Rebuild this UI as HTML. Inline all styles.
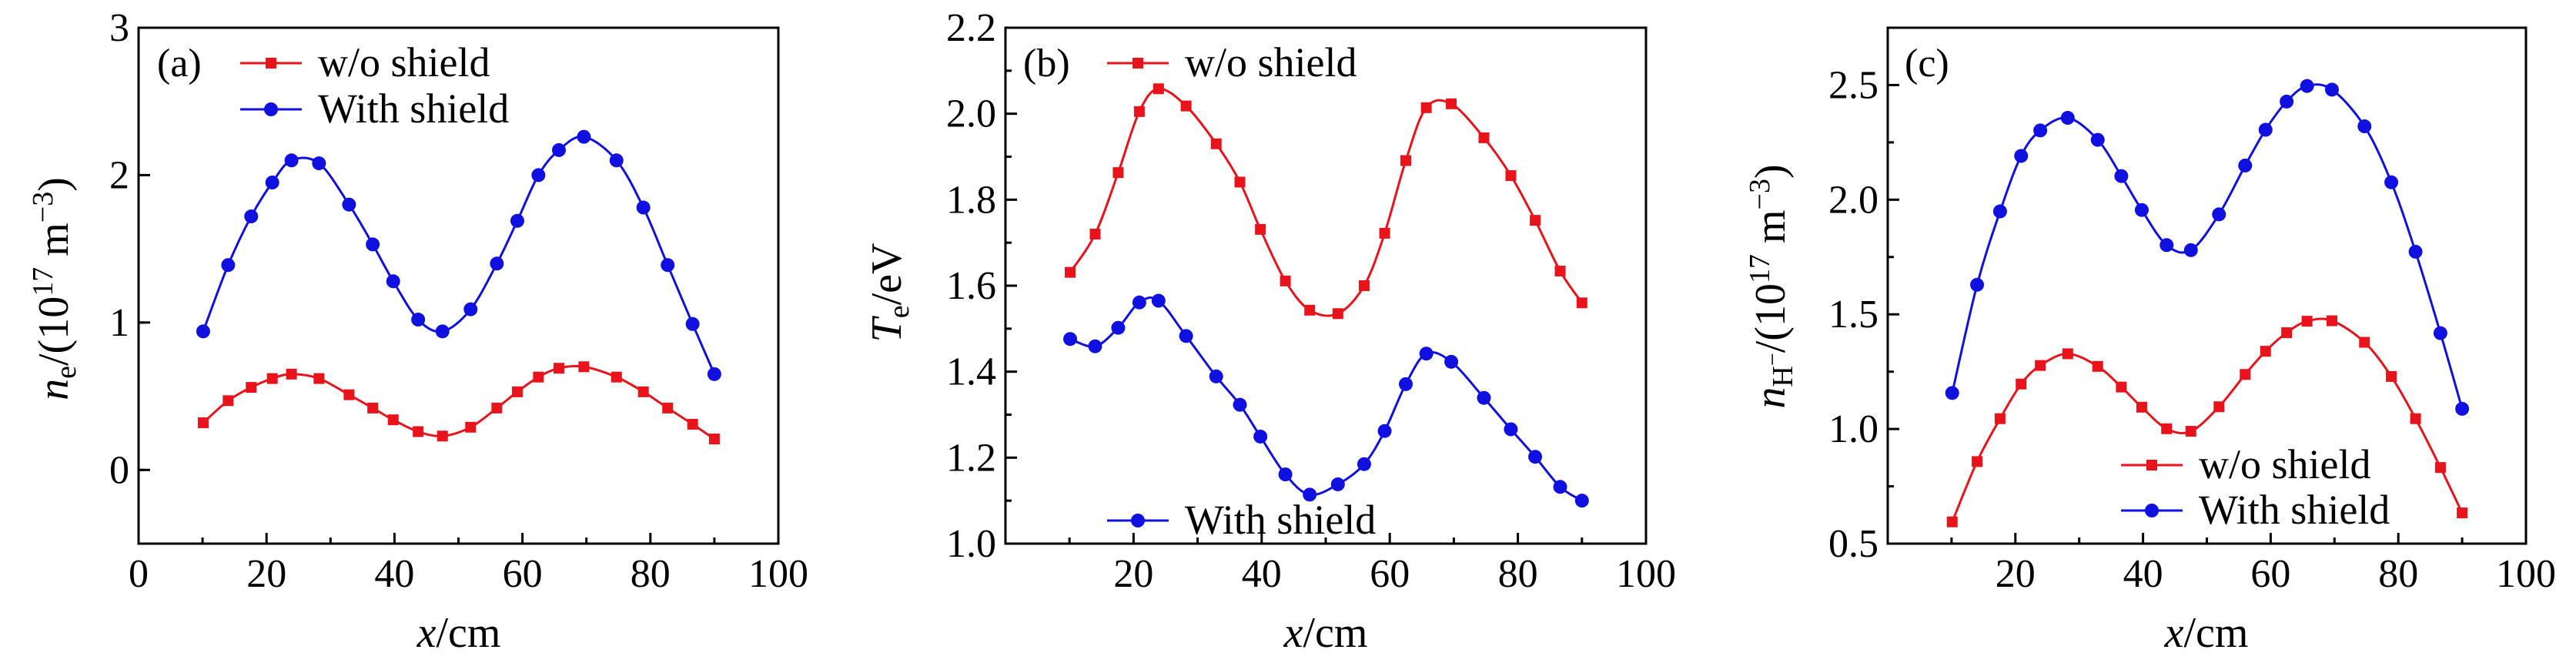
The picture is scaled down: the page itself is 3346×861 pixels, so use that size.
<!DOCTYPE html>
<html><head><meta charset="utf-8"><style>
html,body{margin:0;padding:0;background:#fff;}
svg, svg text, svg tspan{font-family:"Liberation Serif","DejaVu Serif",serif;}
</style></head><body>
<svg id="fig" width="3346" height="856" viewBox="0 0 3346 856" xmlns="http://www.w3.org/2000/svg" font-family="Liberation Serif, DejaVu Serif, serif"></svg>
<script>
const xPos = [10.1,14,17.6,20.9,23.9,28.2,32.9,36.6,39.8,43.7,47.5,51.9,56,59.2,62.5,65.7,69.6,74.7,78.9,82.7,86.6,90];
const aRed = [0.32,0.47,0.56,0.62,0.65,0.62,0.51,0.42,0.34,0.26,0.23,0.29,0.42,0.53,0.63,0.69,0.70,0.63,0.53,0.42,0.31,0.21];
const aBlue = [0.94,1.39,1.72,1.95,2.10,2.08,1.80,1.53,1.28,1.02,0.94,1.09,1.40,1.69,2.00,2.17,2.26,2.10,1.78,1.39,0.99,0.65];
const bRed = [1.631,1.720,1.863,2.005,2.058,2.018,1.930,1.841,1.731,1.611,1.543,1.535,1.600,1.722,1.891,2.014,2.023,1.944,1.856,1.752,1.634,1.560];
const bBlue = [1.476,1.459,1.502,1.561,1.565,1.483,1.389,1.323,1.249,1.161,1.114,1.138,1.185,1.262,1.371,1.442,1.423,1.339,1.266,1.202,1.132,1.100];
const cRed = [0.595,0.858,1.045,1.196,1.277,1.328,1.273,1.183,1.095,1.001,0.990,1.097,1.238,1.339,1.420,1.470,1.472,1.378,1.229,1.045,0.832,0.634];
const cBlue = [1.157,1.629,1.949,2.191,2.302,2.357,2.261,2.103,1.955,1.802,1.780,1.936,2.149,2.305,2.428,2.496,2.480,2.320,2.076,1.773,1.418,1.088];
const aYTicks = ["0","1","2","3"];
const bYTicks = ["1.0","1.2","1.4","1.6","1.8","2.0","2.2"];
const cYTicks = ["0.5","1.0","1.5","2.0","2.5"];
const xTicksA = ["0","20","40","60","80","100"];
const xTicksBC = ["20","40","60","80","100"];

const NS="http://www.w3.org/2000/svg";
const svg=document.getElementById('fig');
const FF="Liberation Serif, DejaVu Serif, serif";
function mk(tag,attrs,parent,text){const e=document.createElementNS(NS,tag);for(const k in attrs)e.setAttribute(k,attrs[k]);if(tag==='text')e.setAttribute('font-family',FF);if(text!==undefined)e.textContent=text;(parent||svg).appendChild(e);return e;}

function spline(pts){
  let d=`M${pts[0][0]},${pts[0][1]}`;
  for(let i=0;i<pts.length-1;i++){
    const p0=pts[Math.max(0,i-1)],p1=pts[i],p2=pts[i+1],p3=pts[Math.min(pts.length-1,i+2)];
    const c1=[p1[0]+(p2[0]-p0[0])/6,p1[1]+(p2[1]-p0[1])/6];
    const c2=[p2[0]-(p3[0]-p1[0])/6,p2[1]-(p3[1]-p1[1])/6];
    d+=` C${c1[0]},${c1[1]} ${c2[0]},${c2[1]} ${p2[0]},${p2[1]}`;
  }
  return d;
}

function panel(o){
  const g=mk('g',{});
  
  
  const L=o.L,R=o.R,T=36,B=706;
  const sx=v=>L+(v-0)/100*(R-L);
  const sy=v=>B-(v-o.ymin)/(o.ymax-o.ymin)*(B-T);
  o.yt.forEach(t=>{
    const y=sy(parseFloat(t));
    const tk=mk('line',{x1:L,x2:L+15,y1:y,y2:y,stroke:'#000','stroke-width':3},g);
    
    
    const lb=mk('text',{x:L-12,y:y+17,'font-size':52,'text-anchor':'end'},g,t);
    
    
  });
  for(let v=o.ymin+o.minor;v<o.ymax-1e-6;v+=o.minor*2){
    const y=sy(v);
    mk('line',{x1:L,x2:L+8,y1:y,y2:y,stroke:'#000','stroke-width':3},g);
  }
  for(let v=10;v<100;v+=20){const x=sx(v);mk('line',{x1:x,x2:x,y1:B,y2:B-8,stroke:'#000','stroke-width':3},g);}
  o.xt.forEach(t=>{
    const x=sx(parseFloat(t));
    mk('line',{x1:x,x2:x,y1:B,y2:B-14,stroke:'#000','stroke-width':3},g);
    const lb=mk('text',{x:x,y:762,'font-size':52,'text-anchor':'middle'},g,t);
    
    
  });
  const box=mk('rect',{x:L,y:T,width:R-L,height:B-T,fill:'none',stroke:'#000','stroke-width':3},g);
  
  
  [[o.red,'#e8131b','sq','red-series'],[o.blue,'#1010e0','ci','blue-series']].forEach(([arr,col,m,nm])=>{
    const pts=arr.map((v,i)=>[sx(xPos[i]),sy(v)]);
    const p=mk('path',{d:spline(pts),fill:'none',stroke:col,'stroke-width':3},g);
    
    
    pts.forEach(q=>{
      let e;
      if(m==='sq') e=mk('rect',{x:q[0]-7,y:q[1]-7,width:14,height:14,fill:col},g);
      else e=mk('circle',{cx:q[0],cy:q[1],r:9,fill:col},g);
      
      
    });
  });
  const pl=mk('text',{x:o.lab[0],y:o.lab[1]+17,'font-size':52},g,o.labText);
  
  
  [[o.legR,'#e8131b','sq','w/o shield'],[o.legB,'#1010e0','ci','With shield']].forEach(([pos,col,m,txt])=>{
    const lg=mk('g',{},g);
    
    
    const x0=pos[0],y=pos[1];
    mk('line',{x1:x0,x2:x0+80,y1:y,y2:y,stroke:col,'stroke-width':3},lg);
    if(m==='sq') mk('rect',{x:x0+33,y:y-7,width:14,height:14,fill:col},lg);
    else mk('circle',{cx:x0+40,cy:y,r:9,fill:col},lg);
    mk('text',{x:x0+101,y:y+17,'font-size':54},lg,txt);
  });
  const xt=mk('text',{x:o.xtx,y:840,'font-size':56,'text-anchor':'middle'},g);
  
  
  mk('tspan',{'font-style':'italic'},xt,'x');
  mk('tspan',{},xt,'/cm');
  const yt=mk('text',{x:0,y:0,'font-size':56,'text-anchor':'middle',transform:`translate(${o.ytx},${o.yty}) rotate(-90)`},g);
  
  
  o.ytitle(yt);
}

panel({name:'panel-a-electron-density',L:180,R:1011,ymin:-0.5,ymax:3,minor:0.5,yt:aYTicks,xt:xTicksA,red:aRed,blue:aBlue,
  lab:[204,82],labText:'(a)',legR:[312,82],legB:[312,142],xtx:596,ytx:88,yty:375,
  ytitle:t=>{mk('tspan',{'font-style':'italic'},t,'n');mk('tspan',{'font-size':38,dy:10},t,'e');mk('tspan',{dy:-10},t,'/(10');mk('tspan',{'font-size':38,dy:-20},t,'17');mk('tspan',{dy:20},t,' m');mk('tspan',{'font-size':38,dy:-20},t,'−3');mk('tspan',{dy:20},t,')');}});
panel({name:'panel-b-electron-temperature',L:1306,R:2138,ymin:1.0,ymax:2.2,minor:0.1,yt:bYTicks,xt:xTicksBC,red:bRed,blue:bBlue,
  lab:[1329,82],labText:'(b)',legR:[1438,82],legB:[1438,676],xtx:1722,ytx:1170,yty:380,
  ytitle:t=>{mk('tspan',{'font-style':'italic'},t,'T');mk('tspan',{'font-size':38,dy:10},t,'e');mk('tspan',{dy:-10},t,'/eV');}});
panel({name:'panel-c-negative-ion-density',L:2452,R:3281,ymin:0.5,ymax:2.75,minor:0.25,yt:cYTicks,xt:xTicksBC,red:cRed,blue:cBlue,
  lab:[2474,82],labText:'(c)',legR:[2755,604],legB:[2755,663],xtx:2866,ytx:2318,yty:372,
  ytitle:t=>{mk('tspan',{'font-style':'italic'},t,'n');mk('tspan',{'font-size':38,dy:10},t,'H');mk('tspan',{'font-size':30,dy:-16},t,'−');mk('tspan',{dy:6},t,'/(10');mk('tspan',{'font-size':38,dy:-20},t,'17');mk('tspan',{dy:20},t,' m');mk('tspan',{'font-size':38,dy:-20},t,'−3');mk('tspan',{dy:20},t,')');}});
</script>
</body></html>
